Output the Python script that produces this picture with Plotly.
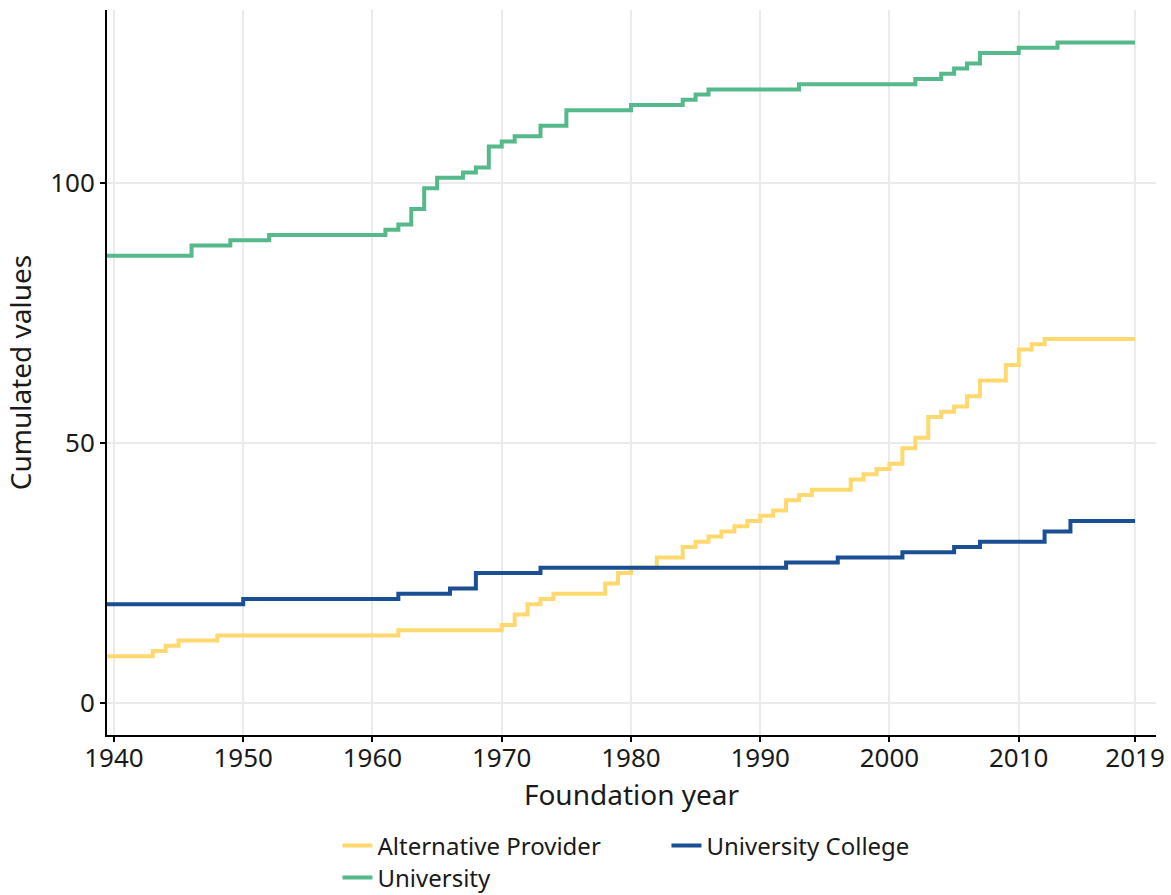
import plotly.graph_objects as go

# Data: (year of step, cumulated value)
ap_years = [1939, 1943, 1944, 1945, 1948, 1962, 1970, 1971, 1972, 1973, 1974, 1978, 1979, 1980,
            1982, 1984, 1985, 1986, 1987, 1988, 1989, 1990, 1991, 1992, 1993, 1994, 1997, 1998,
            1999, 2000, 2001, 2002, 2003, 2004, 2005, 2006, 2007, 2009, 2010, 2011, 2012, 2019]
ap_values = [9, 10, 11, 12, 13, 14, 15, 17, 19, 20, 21, 23, 25, 26,
             28, 30, 31, 32, 33, 34, 35, 36, 37, 39, 40, 41, 43, 44,
             45, 46, 49, 51, 55, 56, 57, 59, 62, 65, 68, 69, 70, 70]

uni_years = [1939, 1946, 1949, 1952, 1961, 1962, 1963, 1964, 1965, 1967, 1968, 1969, 1970, 1971,
             1973, 1975, 1980, 1984, 1985, 1986, 1993, 2002, 2004, 2005, 2006, 2007, 2010, 2013, 2019]
uni_values = [86, 88, 89, 90, 91, 92, 95, 99, 101, 102, 103, 107, 108, 109,
              111, 114, 115, 116, 117, 118, 119, 120, 121, 122, 123, 125, 126, 127, 127]

uc_years = [1939, 1950, 1962, 1966, 1968, 1973, 1992, 1996, 2001, 2005, 2007, 2012, 2014, 2019]
uc_values = [19, 20, 21, 22, 25, 26, 27, 28, 29, 30, 31, 33, 35, 35]

x_ticks = [1940, 1950, 1960, 1970, 1980, 1990, 2000, 2010, 2019]
y_ticks = [0, 50, 100]

FONT = "Noto Sans"
TXT = "#1a1a1a"

fig = go.Figure()
fig.add_trace(go.Scatter(x=ap_years, y=ap_values, mode="lines", line_shape="hv",
                         line=dict(color="#FFD86E", width=4), name="Alternative Provider",
                         legend="legend", legendrank=1))
fig.add_trace(go.Scatter(x=uni_years, y=uni_values, mode="lines", line_shape="hv",
                         line=dict(color="#56B98C", width=4), name="University",
                         legend="legend2", legendrank=3))
fig.add_trace(go.Scatter(x=uc_years, y=uc_values, mode="lines", line_shape="hv",
                         line=dict(color="#1B4F93", width=4), name="University College",
                         legend="legend", legendrank=2))

fig.update_layout(
    width=1171, height=895,
    margin=dict(l=107, r=15, t=10, b=160, autoexpand=False),
    plot_bgcolor="white", paper_bgcolor="white",
    font=dict(family=FONT, color=TXT, size=26),
    legend=dict(orientation="h", x=0.2197, xanchor="left", y=-0.1531, yanchor="middle",
                font=dict(size=24, family=FONT, color=TXT), entrywidth=284, entrywidthmode="pixels",
                itemwidth=30, tracegroupgap=0, bgcolor="rgba(0,0,0,0)"),
    legend2=dict(orientation="h", x=0.2197, xanchor="left", y=-0.1972, yanchor="middle",
                 font=dict(size=24, family=FONT, color=TXT), itemwidth=30,
                 bgcolor="rgba(0,0,0,0)"),
)

fig.update_xaxes(
    range=[1939.46, 2020.62], tickmode="array", tickvals=x_ticks,
    ticktext=[str(t) for t in x_ticks],
    showgrid=True, gridcolor="#EBEBEB", gridwidth=1.5,
    showline=True, linecolor="black", linewidth=2,
    ticks="outside", ticklen=5, tickwidth=1.5, tickcolor="black",
    tickfont=dict(size=26, family=FONT, color=TXT), ticklabeloverflow="allow",
    ticklabelstandoff=-6,
    title=dict(text="Foundation year", font=dict(size=28, family=FONT, color=TXT), standoff=0),
    zeroline=False, automargin=False,
)
fig.update_yaxes(
    range=[-6.15, 133.27], tickmode="array", tickvals=y_ticks,
    showgrid=True, gridcolor="#EBEBEB", gridwidth=1.5,
    showline=True, linecolor="black", linewidth=2,
    ticks="outside", ticklen=5, tickwidth=1.5, tickcolor="black",
    tickfont=dict(size=26, family=FONT, color=TXT), ticklabeloverflow="allow",
    title=dict(text="Cumulated values", font=dict(size=28, family=FONT, color=TXT), standoff=10),
    zeroline=False, automargin=False,
)

fig.write_html("out.html", config={"displayModeBar": False},
               post_script="document.body.style.margin='0';document.body.style.overflow='hidden';")
